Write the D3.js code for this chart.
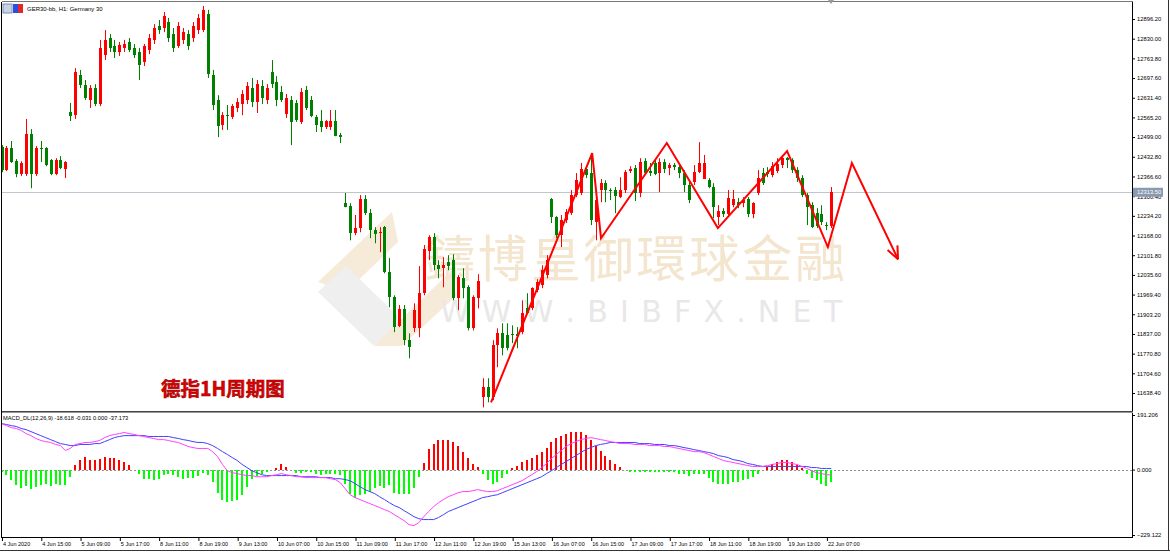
<!DOCTYPE html>
<html><head><meta charset="utf-8">
<script src="https://cdn.jsdelivr.net/npm/d3@7"></script>
<style>body{margin:0;background:#fff;}svg{display:block;}</style>
</head><body>
<svg id="c" width="1170" height="552"></svg>
<script>
// ---------- DATA ----------
const opens=[12465,12388,12462,12418,12375,12375,12509,12375,12462,12462,
12422,12375,12422,12391,12583,12573,12708,12674,12624,12664,
12610,12775,12832,12805,12785,12799,12819,12799,12785,12752,
12792,12826,12873,12866,12886,12846,12805,12826,12846,12832,
12859,12859,12913,12708,12624,12539,12573,12566,12597,12610,
12624,12664,12617,12671,12624,12718,12684,12651,12576,12624,
12614,12550,12657,12624,12566,12553,12533,12533,12553,12506,
12277,12267,12176,12193,12290,12243,12186,12176,12196,12045,
11961,11863,11920,11816,11856,11856,11974,12115,12162,12068,
12058,12078,12085,11957,12024,11994,11856,11957,11624,11658,
11624,11799,11839,11833,11836,11836,11843,11923,11923,11984,
12001,12035,12290,12230,12169,12220,12243,12304,12311,12391,
12378,12213,12321,12344,12321,12321,12297,12321,12385,12395,
12311,12418,12385,12412,12378,12415,12395,12405,12398,12378,
12338,12348,12381,12358,12354,12331,12230,12250,12240,12270,
12280,12277,12290,12240,12311,12378,12381,12371,12385,12405,
12428,12422,12388,12361,12304,12270,12243,12240,12203,12199];
const highs=[12472,12469,12486,12425,12418,12560,12526,12469,12486,12465,
12425,12428,12435,12418,12614,12731,12725,12691,12674,12677,
12826,12859,12846,12826,12819,12826,12832,12812,12799,12812,
12846,12879,12893,12920,12900,12866,12886,12866,12859,12886,
12913,12940,12927,12725,12640,12583,12607,12610,12630,12657,
12684,12698,12691,12691,12677,12758,12704,12671,12644,12637,
12624,12664,12671,12637,12573,12590,12556,12590,12590,12513,
12311,12277,12237,12304,12304,12257,12196,12196,12200,12092,
11967,11934,11934,11839,11940,12065,12136,12169,12176,12085,
12095,12102,12105,12035,12058,12001,11967,12038,11688,11688,
11816,11856,11873,11873,11866,11860,11950,11974,11994,12021,
12068,12102,12294,12233,12237,12257,12321,12378,12412,12398,
12439,12304,12358,12354,12327,12331,12364,12388,12401,12405,
12428,12428,12412,12422,12428,12425,12412,12412,12405,12388,
12348,12405,12482,12439,12361,12344,12270,12260,12321,12321,
12294,12297,12297,12280,12388,12395,12398,12415,12428,12439,
12432,12428,12398,12371,12311,12280,12260,12270,12213,12331];
const lows=[12381,12385,12412,12364,12368,12368,12327,12368,12415,12401,
12371,12371,12391,12361,12553,12560,12664,12624,12597,12603,
12603,12758,12785,12765,12772,12785,12785,12765,12691,12738,
12778,12812,12846,12852,12819,12785,12799,12812,12792,12819,
12846,12852,12698,12590,12499,12523,12523,12560,12583,12573,
12610,12600,12580,12610,12610,12664,12603,12617,12563,12472,
12550,12543,12590,12566,12516,12516,12526,12523,12502,12479,
12263,12152,12169,12179,12237,12159,12142,12112,12041,11927,
11843,11860,11799,11755,11843,11826,11967,12085,12051,12024,
11994,12051,11950,11917,11957,11849,11849,11923,11590,11607,
11614,11725,11765,11782,11806,11789,11836,11907,11917,11977,
11991,12024,12210,12159,12129,12210,12237,12297,12304,12361,
12203,12152,12280,12280,12287,12243,12294,12311,12378,12284,
12297,12371,12368,12371,12314,12378,12371,12388,12361,12314,
12277,12338,12378,12358,12327,12226,12203,12230,12237,12263,
12260,12263,12230,12226,12304,12338,12364,12364,12378,12395,
12395,12378,12348,12297,12203,12193,12193,12203,12186,12193];
const closes=[12388,12462,12415,12375,12412,12509,12375,12462,12459,12405,
12375,12422,12395,12415,12570,12718,12674,12630,12664,12610,
12799,12826,12799,12785,12809,12812,12792,12775,12741,12805,
12832,12866,12859,12906,12832,12799,12873,12852,12805,12873,
12900,12927,12711,12607,12536,12573,12570,12603,12617,12644,
12671,12617,12677,12630,12664,12677,12624,12624,12630,12550,
12556,12651,12597,12570,12539,12533,12553,12553,12502,12499,
12263,12176,12193,12290,12243,12186,12173,12179,12045,11961,
11860,11920,11816,11792,11917,11974,12122,12162,12068,12055,
12068,12065,11957,12028,11991,11856,11961,12014,11658,11624,
11799,11839,11789,11789,11833,11829,11907,11907,11991,12011,
12051,12085,12230,12169,12220,12247,12304,12354,12391,12371,
12220,12287,12344,12321,12317,12300,12321,12381,12391,12311,
12415,12378,12378,12375,12415,12391,12405,12398,12378,12338,
12287,12381,12412,12412,12331,12263,12250,12240,12294,12290,
12270,12287,12240,12277,12361,12344,12375,12401,12408,12428,
12422,12388,12361,12304,12263,12196,12199,12213,12199,12313.5];
const macdHist=[-10,-20,-35,-55,-63,-58,-69,-61,-55,-51,
-58,-51,-55,-55,-26,15,33,44,35,33,
38,44,42,42,35,27,15,-2,-14,-32,
-32,-37,-34,-20,-16,-20,-26,-32,-29,-29,
-22,-12,-20,-43,-82,-105,-113,-110,-105,-90,
-61,-32,-23,-14,-8,-2,7,19,9,-2,
-12,-12,-8,-10,-17,-20,-17,-17,-17,-20,
-51,-84,-101,-90,-84,-78,-66,-58,-66,-55,
-82,-84,-84,-84,-63,-26,23,73,91,103,
105,105,98,84,63,42,21,10,-17,-35,
-49,-42,-28,-14,7,14,25,32,42,52,
63,77,98,112,119,126,133,133,130,122,
105,84,66,49,35,21,10,-3,-7,-10,
-7,-10,-10,-7,-10,-10,-7,-10,-14,-17,
-21,-17,-14,-17,-28,-42,-49,-52,-49,-45,
-42,-35,-32,-25,-14,-3,10,21,28,35,
35,28,17,7,-14,-28,-38,-49,-56,-42];
const macdMain=[161,154,147,144,137,126,119,109,102,98,
95,88,84,67,74,88,91,95,95,98,
102,112,119,123,126,130,126,123,119,116,
112,109,105,105,102,98,95,88,81,77,
74,74,74,63,46,18,-4,-11,-14,-18,
-21,-21,-25,-25,-25,-21,-18,-14,-18,-21,
-25,-25,-28,-28,-28,-28,-28,-32,-35,-46,
-67,-88,-98,-105,-112,-119,-126,-133,-140,-147,
-158,-168,-179,-193,-196,-186,-165,-147,-130,-116,
-105,-95,-88,-81,-77,-77,-74,-70,-74,-77,
-77,-74,-67,-60,-53,-46,-39,-28,-18,-7,
7,21,39,53,67,81,91,98,105,109,
112,109,105,102,98,95,91,91,91,88,
88,88,84,84,84,81,81,77,74,70,
67,63,63,60,53,46,39,32,28,25,
21,18,14,11,11,11,14,18,21,25,
25,21,18,11,4,-4,-11,-14,-18,-19];
const macdSignal=[161,158,154,151,144,140,133,126,119,112,
105,98,91,88,84,84,88,88,88,91,
91,98,105,112,116,119,119,119,119,119,
116,116,116,116,116,112,109,105,102,98,
95,95,91,84,74,63,53,42,32,18,
7,-4,-11,-18,-21,-21,-21,-21,-21,-21,
-21,-25,-25,-25,-25,-28,-28,-28,-32,-32,
-35,-39,-49,-60,-70,-77,-84,-95,-105,-116,
-126,-133,-144,-154,-165,-172,-175,-175,-175,-168,
-158,-147,-140,-133,-126,-119,-112,-105,-98,-95,
-91,-88,-81,-74,-67,-60,-53,-46,-39,-32,
-25,-14,-4,7,18,28,39,49,60,70,
77,84,88,91,95,95,95,95,95,95,
91,91,91,88,88,88,84,84,81,77,
74,70,67,63,60,56,49,46,42,35,
32,28,21,18,14,11,11,11,11,11,
11,11,11,11,11,7,7,4,4,4];
const timeLabels=["4 Jun 2020","4 Jun 15:00","5 Jun 09:00","5 Jun 17:00","8 Jun 11:00","8 Jun 19:00","9 Jun 13:00","10 Jun 07:00","10 Jun 15:00","11 Jun 09:00","11 Jun 17:00","12 Jun 11:00","12 Jun 19:00","15 Jun 13:00","16 Jun 07:00","16 Jun 15:00","17 Jun 09:00","17 Jun 17:00","18 Jun 11:00","18 Jun 19:00","19 Jun 13:00","22 Jun 07:00"];
const priceTicks=[12896.20,12830.00,12763.80,12697.60,12631.40,12565.20,12499.00,12432.80,12366.60,12300.40,12234.20,12168.00,12101.80,12035.60,11969.40,11903.20,11837.00,11770.80,11704.60,11638.40];
const macdTicks=[191.206,0,-229.122];
const currentPrice=12313.50;
const zigzagBars=[99.7,120.3,122.1,135.5,145.9,160.0,168.3,173.2,182.6];
const zigzagPrices=[11607,12445,12159,12479,12193,12452,12129,12412,12088];
const headerText="GER30-bb, H1:  Germany 30";
const macdLabel="MACD_DL(12,26,9) -18.618 -0.031 0.000 -37.173";
const titleText="德指1H周期图";
const wmText="鑄博皇御環球金融";
const wmUrl="W W W . B I B F X . N E T";

// ---------- LAYOUT ----------
const L=2,R=1132,mT=2,mB=411,dT=413,dB=537;
const FONT='"Liberation Sans",Arial,sans-serif';
const svg=d3.select('#c');
svg.append('rect').attr('width',1170).attr('height',552).attr('fill','#fff');
const defs=svg.append('defs');
defs.append('clipPath').attr('id','cm').append('rect').attr('x',L).attr('y',mT).attr('width',R-L).attr('height',mB-mT);
defs.append('clipPath').attr('id','cd').append('rect').attr('x',L).attr('y',dT).attr('width',R-L).attr('height',dB-dT);

const n=closes.length;
const x=d3.scaleLinear().domain([0,169]).range([1.5,1.5+4.91*169]);
const y=d3.scaleLinear().domain([12896.2,11638.4]).range([19,393]);
const ym=d3.scaleLinear().domain([191.206,-229.122]).range([415,535]);
const px=i=>Math.round(x(i));

// ---------- WATERMARK ----------
const wm=svg.append('g').attr('clip-path','url(#cm)');
wm.append('polygon').attr('points','318,282 392,212 398,242 346,292').attr('fill','#f6ead8');
wm.append('polygon').attr('points','318,292 346,266 402,320 374,346').attr('fill','#efefef');
wm.append('polygon').attr('points','374,346 452,270 456,296 402,346').attr('fill','#f6ead8');
wm.append('text').attr('x',425).attr('y',277).attr('font-family','"Noto Sans CJK TC","Noto Sans CJK SC",sans-serif')
  .attr('font-size',50).attr('fill','#f4e5cf').attr('textLength',420).text(wmText);
wm.append('text').attr('x',440).attr('y',322).attr('font-family','"DejaVu Sans",sans-serif')
  .attr('font-size',30).attr('fill','#e8e8e8').attr('textLength',402).text(wmUrl);

// ---------- MAIN PANEL ----------
const gm=svg.append('g').attr('clip-path','url(#cm)');
gm.append('line').attr('x1',L).attr('x2',R).attr('y1',Math.round(y(currentPrice))+0.5).attr('y2',Math.round(y(currentPrice))+0.5)
  .attr('stroke','#c0c4cc').attr('stroke-width',1);
const bars=d3.range(n).map(i=>({i,o:opens[i],h:highs[i],l:lows[i],c:closes[i]}));
const col=d=>d.c>=d.o?'#ff0000':'#008000';
gm.selectAll('line.wick').data(bars).join('line').attr('class','wick')
  .attr('x1',d=>px(d.i)+0.5).attr('x2',d=>px(d.i)+0.5)
  .attr('y1',d=>y(d.h)).attr('y2',d=>y(d.l)).attr('stroke',col).attr('stroke-width',1);
gm.selectAll('rect.body').data(bars).join('rect').attr('class','body')
  .attr('x',d=>px(d.i)-1).attr('width',3)
  .attr('y',d=>y(Math.max(d.o,d.c)))
  .attr('height',d=>Math.max(1,Math.abs(y(d.o)-y(d.c))))
  .attr('fill',col).attr('shape-rendering','crispEdges');

// zigzag annotation
const zz=zigzagBars.map((b,k)=>[x(b),y(zigzagPrices[k])]);
gm.append('path').attr('d',d3.line()(zz)).attr('fill','none').attr('stroke','#ff0000').attr('stroke-width',2).attr('stroke-linejoin','miter');
const tip=zz[zz.length-1],prev=zz[zz.length-2];
const ang=Math.atan2(prev[1]-tip[1],prev[0]-tip[0]);
[-0.4,0.4].forEach(a=>{
  gm.append('line').attr('x1',tip[0]).attr('y1',tip[1])
    .attr('x2',tip[0]+14*Math.cos(ang+a)).attr('y2',tip[1]+14*Math.sin(ang+a))
    .attr('stroke','#ff0000').attr('stroke-width',2);
});

// title
svg.append('text').attr('x',161).attr('y',396).attr('font-family','"Noto Sans CJK SC",sans-serif')
  .attr('font-weight','bold').attr('font-size',19.5).attr('fill','#e00000').attr('stroke','#900000').attr('stroke-width',0.5).text(titleText);

// ---------- MACD PANEL ----------
const gd=svg.append('g').attr('clip-path','url(#cd)');
gd.append('line').attr('x1',L).attr('x2',R).attr('y1',Math.round(ym(0))+0.5).attr('y2',Math.round(ym(0))+0.5)
  .attr('stroke','#909090').attr('stroke-dasharray','2,2');
gd.selectAll('rect.h').data(macdHist).join('rect').attr('class','h')
  .attr('x',(d,i)=>px(i)-1).attr('width',2)
  .attr('y',d=>Math.min(ym(d),ym(0))).attr('height',d=>Math.abs(ym(d)-ym(0)))
  .attr('fill',d=>d>=0?'#ff0000':'#00ff00').attr('shape-rendering','crispEdges');
gd.append('path').attr('d',d3.line().x((d,i)=>x(i)).y(d=>ym(d))(macdSignal)).attr('fill','none').attr('stroke','#4040ff').attr('stroke-width',1);
gd.append('path').attr('d',d3.line().x((d,i)=>x(i)).y(d=>ym(d))(macdMain)).attr('fill','none').attr('stroke','#ff40ff').attr('stroke-width',1);

// ---------- AXES ----------
const ay=svg.append('g').attr('transform',`translate(${R},0)`)
  .call(d3.axisRight(y).tickValues(priceTicks).tickFormat(d3.format('.2f')).tickSize(3).tickPadding(2));
ay.select('.domain').remove();
ay.attr('font-family',FONT).attr('font-size',5.8);
ay.selectAll('line').attr('stroke','#000');
const cpY=y(currentPrice);
svg.append('rect').attr('x',R+1).attr('y',cpY-4.5).attr('width',30).attr('height',9).attr('fill','#8a9ab0');
svg.append('text').attr('x',R+5).attr('y',cpY).attr('dy','0.34em').attr('font-family',FONT).attr('font-size',5.8).attr('fill','#fff').text(d3.format('.2f')(currentPrice));

const ad=svg.append('g').attr('transform',`translate(${R},0)`)
  .call(d3.axisRight(ym).tickValues(macdTicks).tickFormat(d3.format('.3f')).tickSize(3).tickPadding(2));
ad.select('.domain').remove();
ad.attr('font-family',FONT).attr('font-size',5.8);

const ax=svg.append('g').attr('transform',`translate(0,${dB})`)
  .call(d3.axisBottom(x).tickValues(timeLabels.map((t,k)=>k*8)).tickFormat((d,k)=>timeLabels[k]).tickSize(4).tickPadding(1));
ax.select('.domain').remove();
ax.attr('font-family',FONT).attr('font-size',5.5);
ax.selectAll('text').attr('text-anchor','start').attr('dx',1);
ax.selectAll('line').attr('stroke','#000').attr('transform','translate(0.5,0)');

// ---------- FRAMES & LABELS ----------
const fr=svg.append('g').attr('fill','none').attr('shape-rendering','crispEdges');
fr.append('line').attr('x1',L-0.5).attr('x2',R+0.5).attr('y1',mT-0.5).attr('y2',mT-0.5).attr('stroke','#777');
fr.append('line').attr('x1',L-0.5).attr('x2',L-0.5).attr('y1',mT-0.5).attr('y2',dB+0.5).attr('stroke','#000');
fr.append('line').attr('x1',R+0.5).attr('x2',R+0.5).attr('y1',mT-0.5).attr('y2',dB+0.5).attr('stroke','#000');
fr.append('line').attr('x1',L-0.5).attr('x2',R+0.5).attr('y1',mB+0.5).attr('y2',mB+0.5).attr('stroke','#444');
fr.append('line').attr('x1',L-0.5).attr('x2',R+0.5).attr('y1',dT-0.5).attr('y2',dT-0.5).attr('stroke','#999');
fr.append('line').attr('x1',L-0.5).attr('x2',R+0.5).attr('y1',dB+0.5).attr('y2',dB+0.5).attr('stroke','#000');
fr.append('line').attr('x1',1168.5).attr('x2',1168.5).attr('y1',0).attr('y2',550).attr('stroke','#333');
fr.append('line').attr('x1',0).attr('x2',1170).attr('y1',550.5).attr('y2',550.5).attr('stroke','#333');

svg.append('rect').attr('x',3).attr('y',4).attr('width',9).attr('height',9).attr('fill','#c9d3e6').attr('stroke','#7f8fb0');
svg.append('rect').attr('x',13).attr('y',4).attr('width',5).attr('height',9).attr('fill','#2c4fe0');
svg.append('rect').attr('x',18).attr('y',4).attr('width',5).attr('height',9).attr('fill','#e02a2a');
svg.append('text').attr('x',27).attr('y',11).attr('font-family',FONT).attr('font-size',6).attr('fill','#000').text(headerText);
svg.append('polygon').attr('points','828,0 834,0 831,4').attr('fill','#999');
svg.append('text').attr('x',3).attr('y',420).attr('font-family',FONT).attr('font-size',5.7).attr('fill','#000').text(macdLabel);
</script>
</body></html>
